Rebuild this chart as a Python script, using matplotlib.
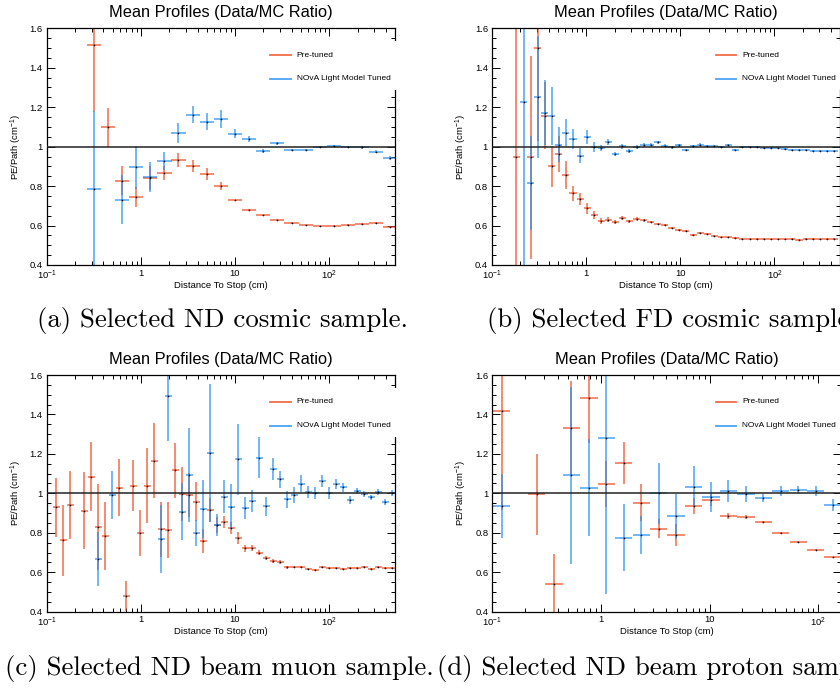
import numpy as np
import matplotlib
matplotlib.use('Agg')
from matplotlib import pyplot as plt
from matplotlib.patches import Rectangle
from matplotlib.ticker import LogLocator, MultipleLocator, NullFormatter, FuncFormatter, FormatStrFormatter

plt.rcParams['font.family'] = ['Liberation Sans', 'DejaVu Sans']
plt.rcParams['mathtext.fontset'] = 'custom'
plt.rcParams['mathtext.rm'] = 'Liberation Sans'
plt.rcParams['mathtext.it'] = 'Liberation Sans:italic'
plt.rcParams['mathtext.default'] = 'regular'

RED = '#f0461c'
BLUE = '#1e8cf2'

#(a) ND cosmic sample
a_half = 0.075
a_red_x = [0.316, 0.447, 0.631, 0.891, 1.26, 1.78, 2.51, 3.55, 5.01, 7.08, 10.0,
           14.1, 20.0, 28.2, 39.8, 56.2, 79.4, 112, 158, 224, 316, 447]
a_red_y = [1.515, 1.098, 0.828, 0.743, 0.840, 0.868, 0.932, 0.900, 0.861, 0.800, 0.727,
           0.679, 0.651, 0.630, 0.613, 0.602, 0.597, 0.600, 0.603, 0.608, 0.613, 0.595]
a_red_e = [0.34, 0.10, 0.072, 0.05, 0.06, 0.036, 0.035, 0.03, 0.03, 0.02, 0.005,
           0.004, 0.004, 0.003, 0.003, 0.003, 0.003, 0.003, 0.003, 0.003, 0.003, 0.004]
a_blue_x = [0.316, 0.631, 0.891, 1.26, 1.78, 2.51, 3.55, 5.01, 7.08, 10.0,
            14.1, 20.0, 28.2, 39.8, 56.2, 79.4, 112, 158, 224, 316, 447]
a_blue_y = [0.787, 0.731, 0.895, 0.845, 0.926, 1.068, 1.162, 1.127, 1.139, 1.065,
            1.039, 0.977, 1.017, 0.983, 0.985, 0.998, 1.005, 0.996, 0.996, 0.975, 0.944]
a_blue_e = [0.395, 0.125, 0.108, 0.075, 0.046, 0.05, 0.043, 0.042, 0.045, 0.022,
            0.015, 0.01, 0.008, 0.006, 0.005, 0.005, 0.005, 0.005, 0.006, 0.006, 0.01]

#(b) FD cosmic sample
b_half = 0.0375
b_red_x = [0.1820, 0.2570, 0.3055, 0.3631, 0.4315, 0.5129, 0.6095, 0.7244, 0.8610, 1.023,
           1.216, 1.445, 1.718, 2.042, 2.427, 2.884, 3.428, 4.074, 4.842, 5.754,
           6.839, 8.128, 9.661, 11.48, 13.65, 16.22, 19.28, 22.91, 27.23, 32.36,
           38.46, 45.71, 54.33, 64.57, 76.74, 91.20, 108.4, 128.8, 153.1, 182.0,
           216.3, 257.0, 305.5, 363.1, 431.5]
b_red_y = [0.946, 0.946, 1.499, 1.157, 0.900, 0.963, 0.856, 0.763, 0.735, 0.687,
           0.655, 0.625, 0.630, 0.616, 0.637, 0.621, 0.633, 0.627, 0.618, 0.607,
           0.603, 0.588, 0.577, 0.571, 0.552, 0.562, 0.557, 0.549, 0.540, 0.540,
           0.537, 0.534, 0.534, 0.532, 0.531, 0.530, 0.530, 0.530, 0.532, 0.527,
           0.532, 0.532, 0.530, 0.531, 0.531]
b_red_e = [0.75, 0.515, 0.47, 0.17, 0.103, 0.093, 0.07, 0.037, 0.032, 0.027,
           0.02, 0.015, 0.012, 0.01, 0.01, 0.008, 0.008, 0.007, 0.007, 0.006,
           0.006, 0.005, 0.005, 0.005, 0.005, 0.004, 0.004, 0.004, 0.004, 0.004,
           0.004, 0.004, 0.004, 0.004, 0.004, 0.004, 0.004, 0.004, 0.004, 0.004,
           0.004, 0.004, 0.004, 0.004, 0.004]
b_blue_x = [0.2163, 0.2570, 0.3055, 0.3631, 0.4315, 0.5129, 0.6095, 0.7244, 0.8610, 1.023,
            1.216, 1.445, 1.718, 2.042, 2.427, 2.884, 3.428, 4.074, 4.842, 5.754,
            6.839, 8.128, 9.661, 11.48, 13.65, 16.22, 19.28, 22.91, 27.23, 32.36,
            38.46, 45.71, 54.33, 64.57, 76.74, 91.20, 108.4, 128.8, 153.1, 182.0,
            216.3, 257.0, 305.5, 363.1, 431.5]
b_blue_y = [1.225, 0.815, 1.25, 1.172, 1.154, 1.01, 1.071, 1.039, 0.954, 1.047,
            1.0, 0.993, 1.022, 0.963, 1.002, 0.976, 0.997, 1.007, 1.01, 1.022,
            1.005, 0.997, 1.007, 0.983, 1.002, 1.01, 1.002, 1.002, 0.997, 1.007,
            0.983, 0.997, 1.0, 0.997, 0.995, 0.992, 0.993, 0.986, 0.983, 0.983,
            0.983, 0.98, 0.977, 0.977, 0.977]
b_blue_e = [0.9, 0.24, 0.31, 0.165, 0.148, 0.09, 0.07, 0.053, 0.037, 0.035,
            0.025, 0.017, 0.015, 0.012, 0.012, 0.01, 0.01, 0.009, 0.009, 0.009,
            0.008, 0.008, 0.007, 0.007, 0.007, 0.006, 0.006, 0.006, 0.006, 0.005,
            0.005, 0.005, 0.005, 0.005, 0.005, 0.005, 0.005, 0.005, 0.005, 0.005,
            0.005, 0.005, 0.005, 0.005, 0.005]

#(c) ND beam muon sample
c_half = 0.0372
c_red_x = [0.1259, 0.1494, 0.1773, 0.2497, 0.2965, 0.3518, 0.4175, 0.5882, 0.6982, 0.8287,
           0.9835, 1.167, 1.385, 1.644, 1.951, 2.316, 2.749, 3.263, 3.873, 4.597,
           5.456, 6.476, 7.686, 9.120, 10.83, 12.85, 15.25, 18.10, 21.48, 25.50,
           30.26, 35.92, 42.63, 50.58, 60.04, 71.27, 84.58, 100.4, 119.1, 141.4,
           167.8, 199.2, 236.4, 280.5, 333.0, 395.3, 469.1]
c_red_y = [0.929, 0.763, 0.941, 0.912, 1.085, 0.828, 0.785, 1.029, 0.479, 1.039,
           0.800, 1.039, 1.166, 0.817, 0.814, 1.117, 0.997, 0.992, 0.958, 0.758,
           0.915, 0.840, 0.853, 0.826, 0.775, 0.721, 0.721, 0.700, 0.670, 0.657,
           0.650, 0.625, 0.627, 0.627, 0.615, 0.611, 0.627, 0.620, 0.621, 0.615,
           0.620, 0.621, 0.625, 0.618, 0.625, 0.620, 0.623]
c_red_e = [0.15, 0.18, 0.17, 0.196, 0.175, 0.217, 0.172, 0.144, 0.077, 0.128,
           0.118, 0.19, 0.19, 0.14, 0.14, 0.14, 0.135, 0.11, 0.10, 0.06,
           0.06, 0.042, 0.03, 0.03, 0.03, 0.018, 0.015, 0.015, 0.01, 0.01,
           0.01, 0.006, 0.005, 0.005, 0.005, 0.005, 0.005, 0.005, 0.005, 0.005,
           0.005, 0.005, 0.005, 0.005, 0.005, 0.005, 0.005]
c_blue_x = [0.3518, 0.4956, 1.644, 1.951, 2.749, 3.263, 3.873, 4.597, 5.456, 6.476,
            7.686, 9.120, 10.83, 12.85, 15.25, 18.10, 21.48, 25.50, 30.26, 35.92,
            42.63, 50.58, 60.04, 71.27, 84.58, 100.4, 119.1, 141.4, 167.8, 199.2,
            236.4, 280.5, 333.0, 395.3, 469.1]
c_blue_y = [0.667, 0.99, 0.768, 1.495, 0.907, 1.093, 0.797, 0.92, 1.203, 0.84,
            0.983, 0.932, 1.172, 0.927, 0.961, 1.181, 0.934, 1.123, 1.071, 0.97,
            0.992, 1.049, 1.005, 1.0, 1.063, 1.0, 1.047, 1.03, 0.965, 1.014,
            0.997, 0.98, 1.008, 0.958, 1.003]
c_blue_e = [0.135, 0.122, 0.174, 0.23, 0.145, 0.24, 0.066, 0.146, 0.35, 0.055,
            0.085, 0.115, 0.18, 0.056, 0.055, 0.105, 0.05, 0.055, 0.042, 0.042,
            0.04, 0.044, 0.03, 0.03, 0.03, 0.03, 0.025, 0.022, 0.02, 0.015,
            0.015, 0.013, 0.015, 0.015, 0.015]

#(d) ND beam proton sample
d_half = 0.08
d_red_x = [0.1219, 0.2553, 0.3694, 0.5346, 0.7736, 1.119, 1.620, 2.344, 3.392, 4.909,
           7.104, 10.28, 14.88, 21.53, 31.16, 45.08, 65.24, 94.41, 136.6]
d_red_y = [1.415, 0.995, 0.538, 1.33, 1.484, 1.047, 1.153, 0.953, 0.821, 0.79,
           0.936, 0.965, 0.885, 0.88, 0.855, 0.80, 0.754, 0.715, 0.675]
d_red_e = [0.50, 0.207, 0.155, 0.24, 0.228, 0.115, 0.105, 0.094, 0.048, 0.055,
           0.04, 0.03, 0.016, 0.012, 0.007, 0.005, 0.004, 0.004, 0.003]
d_blue_x = [0.1219, 0.5346, 0.7736, 1.119, 1.620, 2.344, 3.392, 4.909,
            7.104, 10.28, 14.88, 21.53, 31.16, 45.08, 65.24, 94.41, 136.6]
d_blue_y = [0.936, 1.091, 1.029, 1.28, 0.776, 0.788, 1.0, 0.884,
            1.034, 0.981, 1.012, 0.995, 0.976, 1.01, 1.015, 1.01, 0.943]
d_blue_e = [0.162, 0.447, 0.245, 0.79, 0.168, 0.097, 0.155, 0.115,
            0.105, 0.076, 0.056, 0.04, 0.02, 0.025, 0.02, 0.025, 0.03]

captions = ['(a) Selected ND cosmic sample.', '(b) Selected FD cosmic sample.',
            '(c) Selected ND beam muon sample.', '(d) Selected ND beam proton sample.']

W, H = 840, 690


def add_axes_px(fig, left, top, w, h):
    return fig.add_axes([left / W, 1 - (top + h) / H, w / W, h / H])


def xfmt(v, pos):
    e = int(round(np.log10(v)))
    if e in (0, 1):
        return str(10 ** e)
    return '$10^{%d}$' % e


def draw_panel(ax, rx, ry, re, bx, by, be, half, xmax):
    for x, y, e, c in ((rx, ry, re, RED), (bx, by, be, BLUE)):
        x = np.array(x)
        y = np.array(y)
        e = np.array(e)
        xerr = [x - x / 10 ** half, x * 10 ** half - x]
        ax.errorbar(x, y, yerr=e, xerr=xerr, fmt='none', ecolor=c,
                    elinewidth=1.1, alpha=0.8, capsize=0)
        ax.plot(x, y, ls='none', marker='o', ms=1.2, mfc='k', mec='none', zorder=4)
    ax.axhline(1.0, color='#222222', lw=1.1, zorder=3)

    ax.set_xscale('log')
    ax.set_xlim(0.1, xmax)
    ax.set_ylim(0.4, 1.6)
    ax.xaxis.set_major_locator(LogLocator(base=10))
    ax.xaxis.set_minor_locator(LogLocator(base=10, subs=np.arange(2, 10)))
    ax.xaxis.set_major_formatter(FuncFormatter(xfmt))
    ax.xaxis.set_minor_formatter(NullFormatter())
    ax.yaxis.set_major_locator(MultipleLocator(0.2))
    ax.yaxis.set_minor_locator(MultipleLocator(0.05))
    ax.yaxis.set_major_formatter(FormatStrFormatter('%g'))
    ax.tick_params(which='both', direction='in', top=True, right=True,
                   width=0.7, labelsize=6.8, color='k')
    ax.tick_params(which='major', length=5.8)
    ax.tick_params(which='minor', length=2.9)
    ax.tick_params(axis='x', pad=2.6)
    ax.tick_params(axis='y', pad=2.9)
    for s in ax.spines.values():
        s.set_linewidth(0.9)

    ax.set_title('Mean Profiles (Data/MC Ratio)', fontsize=11.8, y=1.067, pad=0, va='center')
    ax.set_xlabel('Distance To Stop (cm)', fontsize=6.8, va='center')
    ax.xaxis.set_label_coords(0.5, -0.0845)
    ax.set_ylabel('PE/Path (cm$^{-1}$)', fontsize=6.8, va='center')
    ax.yaxis.set_label_coords(-0.088, 0.5)

    # legend box, white, covering the frame like the ROOT TLegend
    ax.add_patch(Rectangle((0.6, 0.738), 0.415, 0.207, transform=ax.transAxes,
                           fc='white', ec='none', clip_on=False, zorder=5))
    for yy, c, lab in ((0.887, RED, 'Pre-tuned'), (0.786, BLUE, 'NOvA Light Model Tuned')):
        ax.plot([0.642, 0.701], [yy, yy], transform=ax.transAxes, color=c, lw=1.3,
                alpha=0.8, clip_on=False, zorder=6)
        ax.text(0.718, yy, lab, transform=ax.transAxes, fontsize=6, va='center',
                ha='left', zorder=6)


fig = plt.figure(figsize=(W / 100, H / 100), dpi=100)

ax_a = add_axes_px(fig, 46.7, 28.3, 348.3, 236.7)
draw_panel(ax_a, a_red_x, a_red_y, a_red_e, a_blue_x, a_blue_y, a_blue_e, a_half, 500)

ax_b = add_axes_px(fig, 492.0, 28.3, 348.3, 236.7)
draw_panel(ax_b, b_red_x, b_red_y, b_red_e, b_blue_x, b_blue_y, b_blue_e, b_half, 500)

ax_c = add_axes_px(fig, 46.7, 375.0, 348.3, 236.7)
draw_panel(ax_c, c_red_x, c_red_y, c_red_e, c_blue_x, c_blue_y, c_blue_e, c_half, 500)

ax_d = add_axes_px(fig, 492.3, 375.0, 348.3, 236.7)
draw_panel(ax_d, d_red_x, d_red_y, d_red_e, d_blue_x, d_blue_y, d_blue_e, d_half, 160)

#Captions under the sub figures
cap = dict(family='cmr10', fontsize=19.3, va='center', ha='left')
fig.text(37 / W, 1 - 320 / H, captions[0], **cap)
fig.text(487 / W, 1 - 320 / H, captions[1], **cap)
fig.text(5 / W, 1 - 668 / H, captions[2], **cap)
fig.text(437 / W, 1 - 668 / H, captions[3], **cap)

fig.savefig('out.png', dpi=100)
